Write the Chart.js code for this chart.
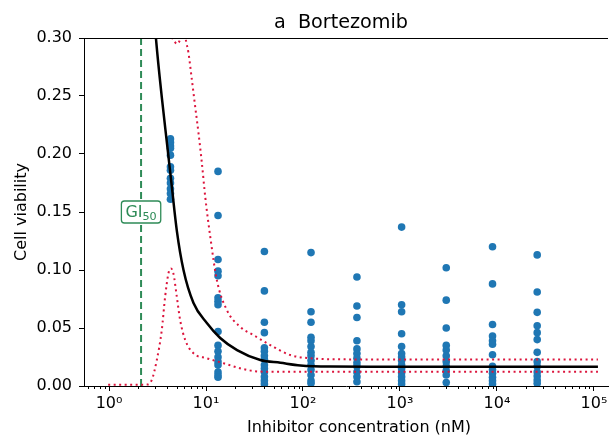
<!DOCTYPE html>
<html>
<head>
<meta charset="utf-8">
<script src="https://cdn.jsdelivr.net/npm/chart.js@4.4.0/dist/chart.umd.min.js"></script>
<style>
  html, body { margin: 0; padding: 0; background: #fff; overflow: hidden; }
  canvas { display: block; }
</style>
</head>
<body>
<canvas id="doseCanvas" width="612" height="437"></canvas>
<script>
const canvas = document.getElementById("doseCanvas");
const ctx = canvas.getContext("2d");

// Dilution series (nM)
const concentrations = [4.3, 13.3, 40, 121, 360, 1040, 3000, 9000, 26000];

// Measured cell viability, one array per concentration
const viab4 = [0.213, 0.210, 0.207, 0.205, 0.199, 0.189, 0.186, 0.179, 0.175, 0.170, 0.166, 0.161];
const viab13 = [0.185, 0.147, 0.109, 0.099, 0.095, 0.076, 0.073, 0.070, 0.047, 0.035, 0.030, 0.025, 0.021, 0.018, 0.012, 0.0095, 0.0075];
const viab40 = [0.116, 0.082, 0.055, 0.046, 0.033, 0.030, 0.026, 0.023, 0.018, 0.015, 0.012, 0.008, 0.0046, 0.0017];
const viab120 = [0.115, 0.064, 0.055, 0.042, 0.039, 0.034, 0.029, 0.026, 0.022, 0.018, 0.014, 0.0095, 0.0046, 0.0023];
const viab360 = [0.094, 0.069, 0.059, 0.039, 0.032, 0.028, 0.024, 0.020, 0.017, 0.012, 0.008, 0.0037];
const viab1k = [0.137, 0.070, 0.064, 0.045, 0.034, 0.028, 0.025, 0.022, 0.018, 0.015, 0.0115, 0.008, 0.0046, 0.0017];
const viab3k = [0.102, 0.074, 0.050, 0.035, 0.031, 0.026, 0.021, 0.017, 0.013, 0.0095, 0.003];
const viab9k = [0.120, 0.088, 0.053, 0.043, 0.039, 0.036, 0.027, 0.017, 0.014, 0.011, 0.0075, 0.0046, 0.0017];
const viab26k = [0.113, 0.081, 0.0635, 0.052, 0.046, 0.040, 0.029, 0.021, 0.017, 0.012, 0.0086, 0.0052, 0.0023];
const replicates = [viab4, viab13, viab40, viab120, viab360, viab1k, viab3k, viab9k, viab26k];

// Fitted curve (black)
const fitConc = [2.8, 3.06, 3.5, 4.0, 4.44, 5.0, 5.86, 7.43, 10.2, 14.0, 20.9, 36.3, 58.5, 94, 190, 500, 2000, 10000, 110000];
const fitViab = [0.34, 0.298, 0.249, 0.206, 0.172, 0.134, 0.100, 0.0716, 0.0543, 0.0414, 0.031, 0.0224, 0.020, 0.0177, 0.0168, 0.0167, 0.0167, 0.0167, 0.0167];

// Confidence band (red dotted)
const upperConc = [1.0, 3.5, 4.3, 4.6, 5.0, 5.3, 5.7, 6.0, 6.24, 6.6, 7.15, 7.73, 8.37, 9.07, 9.82, 11.05, 12.96, 16.4, 22.5, 30.7, 46, 74, 119, 243, 1000, 10000, 110000];
const upperViab = [0.9, 0.45, 0.305, 0.299, 0.295, 0.297, 0.306, 0.305, 0.297, 0.287, 0.264, 0.241, 0.218, 0.192, 0.163, 0.129, 0.091, 0.0655, 0.051, 0.044, 0.0353, 0.0267, 0.0239, 0.023, 0.0228, 0.0228, 0.0228];
const lowerConc = [0.98, 1.65, 2.47, 2.76, 3.11, 3.50, 3.79, 4.10, 4.34, 4.61, 5.00, 5.41, 6.10, 7.43, 10.2, 15.2, 22.5, 36.3, 100, 1000, 10000, 110000];
const lowerViab = [0.001, 0.001, 0.0012, 0.0052, 0.0224, 0.0483, 0.077, 0.0971, 0.1014, 0.0971, 0.077, 0.0569, 0.0397, 0.0282, 0.0239, 0.0196, 0.0153, 0.0124, 0.0123, 0.0123, 0.0123, 0.0123];

const gi50 = 2.14;
const gi50LabelY = 0.15;

const xTicks = [1, 10, 100, 1000, 10000, 100000];
const xTickLabels = ["10⁰", "10¹", "10²", "10³", "10⁴", "10⁵"];
const yTicks = [0, 0.05, 0.1, 0.15, 0.2, 0.25, 0.3];

const FONT = '"DejaVu Sans", sans-serif';
const GREEN = "#2e8b57";
const RED = "#dc143c";

function zip(xs, ys) {
  return xs.map((x, i) => ({ x: x, y: ys[i] }));
}

const scatterPoints = [];
concentrations.forEach((c, i) => {
  replicates[i].forEach(v => scatterPoints.push({ x: c, y: v }));
});

// Extra drawing: top spine, minor ticks, title, x label, GI50 box
const decorations = {
  id: "decorations",
  afterDatasetsDraw(chart) {
    const xs = chart.scales.x;
    const ys = chart.scales.y;
    const cx = xs.getPixelForValue(gi50);
    const cy = ys.getPixelForValue(gi50LabelY);
    ctx.save();
    ctx.font = "16px " + FONT;
    const wGI = ctx.measureText("GI").width;
    ctx.font = "11.2px " + FONT;
    const wSub = ctx.measureText("50").width;
    const w = wGI + wSub + 8;
    const h = 22;
    const left = cx - w / 2;
    const top = cy - h / 2;
    ctx.beginPath();
    ctx.roundRect(left, top, w, h, 3);
    ctx.fillStyle = "#fff";
    ctx.fill();
    ctx.strokeStyle = GREEN;
    ctx.lineWidth = 1.3;
    ctx.stroke();
    ctx.fillStyle = GREEN;
    ctx.textBaseline = "alphabetic";
    ctx.textAlign = "left";
    ctx.font = "16px " + FONT;
    ctx.fillText("GI", left + 4, cy + 4.5);
    ctx.font = "11.2px " + FONT;
    ctx.fillText("50", left + 4 + wGI, cy + 7.5);
    ctx.restore();
  },
  afterDraw(chart) {
    const area = chart.chartArea;
    const xs = chart.scales.x;
    ctx.save();
    ctx.strokeStyle = "#000";
    ctx.lineWidth = 1;
    // top spine
    ctx.beginPath();
    ctx.moveTo(area.left, area.top + 0.5);
    ctx.lineTo(area.right, area.top + 0.5);
    ctx.stroke();
    // minor ticks on log axis
    ctx.beginPath();
    for (let p = -1; p <= 5; p++) {
      for (let m = 2; m <= 9; m++) {
        const v = m * Math.pow(10, p);
        if (v < xs.min || v > xs.max) continue;
        const px = Math.round(xs.getPixelForValue(v)) + 0.5;
        ctx.moveTo(px, area.bottom);
        ctx.lineTo(px, area.bottom + 3);
      }
    }
    ctx.stroke();
    // title and x label
    ctx.fillStyle = "#000";
    ctx.textAlign = "center";
    ctx.textBaseline = "alphabetic";
    ctx.font = "19.2px " + FONT;
    ctx.fillText("a  Bortezomib", 341, 28);
    ctx.font = "16px " + FONT;
    ctx.fillText("Inhibitor concentration (nM)", 359, 432);
    ctx.restore();
  }
};

const chart = new Chart(ctx, {
  type: "scatter",
  data: {
    datasets: [
      {
        label: "fit",
        data: zip(fitConc, fitViab),
        showLine: true,
        borderColor: "#000",
        borderWidth: 2.5,
        pointRadius: 0,
        cubicInterpolationMode: "monotone",
        order: 1
      },
      {
        label: "upper",
        data: zip(upperConc, upperViab),
        showLine: true,
        borderColor: RED,
        borderWidth: 2,
        borderDash: [2, 3.5],
        pointRadius: 0,
        cubicInterpolationMode: "monotone",
        order: 2
      },
      {
        label: "lower",
        data: zip(lowerConc, lowerViab),
        showLine: true,
        borderColor: RED,
        borderWidth: 2,
        borderDash: [2, 3.5],
        pointRadius: 0,
        cubicInterpolationMode: "monotone",
        clip: { left: 0, top: 0, right: 0, bottom: 3 },
        order: 2
      },
      {
        label: "GI50",
        data: [{ x: gi50, y: 0 }, { x: gi50, y: 0.3 }],
        showLine: true,
        borderColor: GREEN,
        borderWidth: 2,
        borderDash: [7, 4],
        pointRadius: 0,
        order: 3
      },
      {
        label: "measured",
        data: scatterPoints,
        backgroundColor: "#1f77b4",
        borderWidth: 0,
        pointRadius: 3.8,
        order: 5
      }
    ]
  },
  options: {
    responsive: false,
    animation: false,
    devicePixelRatio: 1,
    layout: { padding: { top: 38, left: 0, right: 0, bottom: 0 } },
    plugins: {
      legend: { display: false },
      tooltip: { enabled: false }
    },
    scales: {
      x: {
        type: "logarithmic",
        min: Math.pow(10, -0.258),
        max: Math.pow(10, 5.145),
        afterBuildTicks: scale => {
          scale.ticks = xTicks.map(v => ({ value: v, major: true }));
        },
        afterFit: scale => { scale.height = 51; },
        ticks: {
          autoSkip: false,
          maxRotation: 0,
          padding: 3,
          color: "#000",
          font: { family: FONT, size: 16 },
          callback: (value, index) => xTickLabels[index]
        },
        grid: { drawOnChartArea: false, drawTicks: true, tickLength: 5, color: "#000", lineWidth: 1 },
        border: { display: true, color: "#000", width: 1 }
      },
      y: {
        min: 0,
        max: 0.3,
        afterBuildTicks: scale => {
          scale.ticks = yTicks.map(v => ({ value: v }));
        },
        afterFit: scale => { scale.width = 84; },
        ticks: {
          padding: 7,
          color: "#000",
          font: { family: FONT, size: 16 },
          callback: value => value.toFixed(2)
        },
        grid: { drawOnChartArea: false, drawTicks: true, tickLength: 5, color: "#000", lineWidth: 1 },
        border: { display: true, color: "#000", width: 1 },
        title: {
          display: true,
          text: "Cell viability",
          color: "#000",
          font: { family: FONT, size: 16 },
          padding: { top: 12, bottom: 0 }
        }
      }
    }
  },
  plugins: [decorations]
});
</script>
</body>
</html>
